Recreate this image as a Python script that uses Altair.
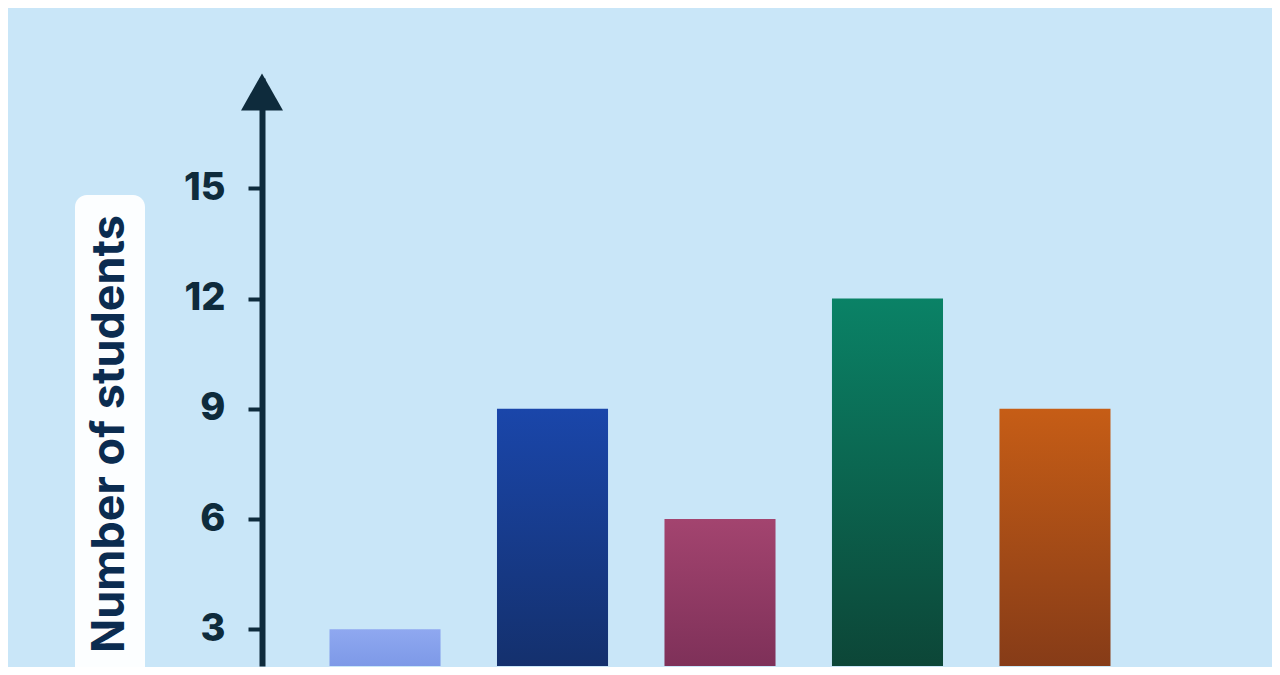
import altair as alt
import pandas as pd

# ---- data ----
categories = ["A", "B", "C", "D", "E"]
students = [3, 9, 6, 12, 9]
y_ticks = [3, 6, 9, 12, 15]
y_title = "Number of students"

# gradient colours per bar (top, bottom)
bar_top = ["#8fa8f0", "#1a46aa", "#a3446f", "#0a8266", "#c65d16"]
bar_bottom = ["#5a7bd6", "#122a5c", "#6c274e", "#0d3a2e", "#743218"]

df = pd.DataFrame({"category": categories, "students": students})

INK = "#0e2b3c"
BG = "#c9e6f8"

x_enc = alt.X("category:N", sort=categories, axis=None,
              scale=alt.Scale(paddingInner=0.337, paddingOuter=0.403))
y_scale = alt.Scale(domain=[2, 18], nice=False, zero=False)

base = alt.Chart(df)

# axis-only layer (invisible) carrying the y axis
axis_layer = base.mark_bar(opacity=0, clip=True).encode(
    x=x_enc,
    y=alt.Y("students:Q", scale=y_scale,
            axis=alt.Axis(values=y_ticks, title=None, grid=False,
                          domainColor=INK, domainWidth=6,
                          tickColor=INK, tickWidth=4, tickSize=14,
                          labelPadding=23, labelFontSize=38,
                          labelFont="Inter", labelFontWeight=800,
                          labelColor=INK)),
    y2=alt.datum(0),
)

bar_layers = []
for cat, top, bottom in zip(categories, bar_top, bar_bottom):
    grad = alt.Gradient(
        gradient="linear", x1=0, y1=0, x2=0, y2=1,
        stops=[alt.GradientStop(color=top, offset=0),
               alt.GradientStop(color=bottom, offset=1)],
    )
    bar_layers.append(
        base.transform_filter(alt.datum.category == cat)
        .mark_bar(fill=grad, clip=True)
        .encode(x=x_enc, y=alt.Y("students:Q", scale=y_scale), y2=alt.datum(0))
    )

one = alt.Data(values=[{"k": 1}])

# arrow head on top of y axis
arrow = alt.Chart(one).mark_point(
    shape="M-1,0.88L0,-0.88L1,0.88Z", filled=True, fill=INK, stroke=None,
    opacity=1, size=1764,
).encode(x=alt.value(0), y=alt.value(14))

# white rounded box behind the y title
title_box = alt.Chart(one).mark_rect(
    color="#ffffff", cornerRadius=12, opacity=0.95,
).encode(x=alt.value(-187), x2=alt.value(-117), y=alt.value(117), y2=alt.value(640))

title_text = alt.Chart(one).mark_text(
    text=y_title, angle=270, font="Inter", fontWeight="bold", fontSize=45,
    color="#0b2c50", align="center", baseline="middle",
).encode(x=alt.value(-152), y=alt.value(356))

chart = alt.layer(
    title_box, title_text, axis_layer, *bar_layers, arrow
).properties(
    width=916, height=588,
    autosize=alt.AutoSizeParams(type="none"),
    padding={"left": 254, "top": 70, "right": 94, "bottom": 1},
    background=BG,
).configure_view(stroke=None)

chart.save("out.html", embed_options={"renderer": "svg", "actions": False})
